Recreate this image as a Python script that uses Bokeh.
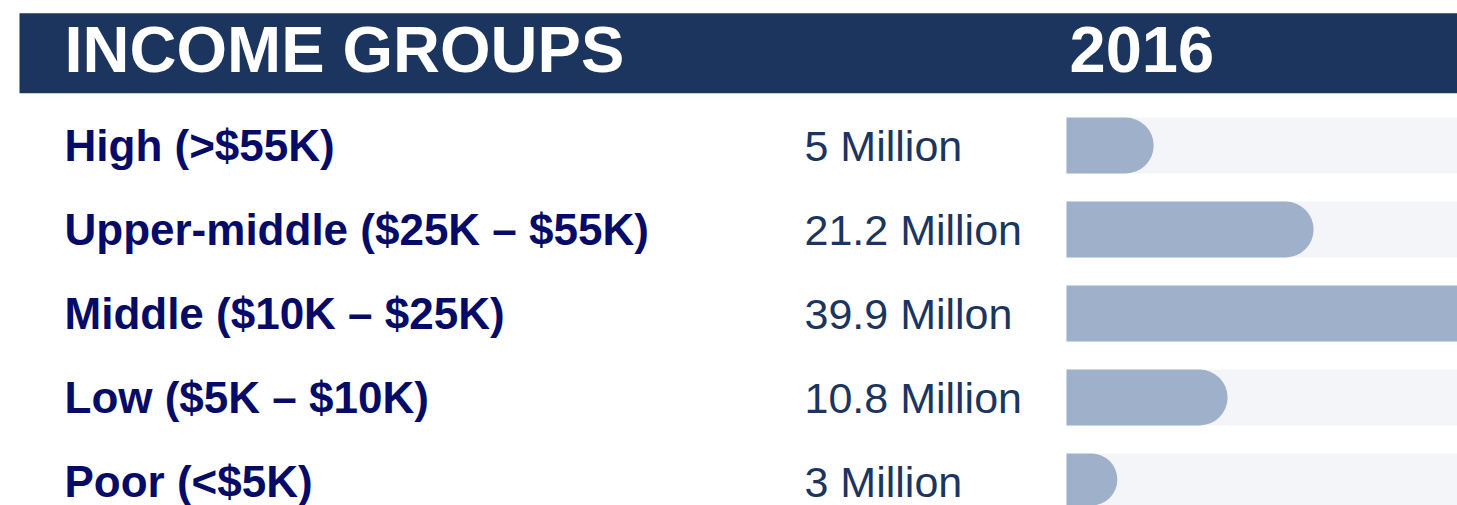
from bokeh.plotting import figure
from bokeh.models import Range1d
from bokeh.embed import file_html
from bokeh.resources import INLINE
from bokeh.core.properties import value

# ---- data ----
header_title = "INCOME GROUPS"
header_year = "2016"
groups = ["High (>$55K)", "Upper-middle ($25K – $55K)", "Middle ($10K – $25K)",
          "Low ($5K – $10K)", "Poor (<$5K)"]
population_labels = ["5 Million", "21.2 Million", "39.9 Millon", "10.8 Million", "3 Million"]
# bar length as % of the grey track (middle bar fills the track)
bar_length = [22.3, 63.2, 100.0, 41.2, 13.0]
rows = list(range(len(groups)))

# ---- layout ----
W, H = 1457, 505
TRACK_LEFT = 1066.0          # px where the bar track begins
PX_PER_PCT = (W - TRACK_LEFT) / 100.0
ROW0 = 145.0                 # px of first row centre
PITCH = 84.0                 # px between rows
BAR_H = 56.0

FONT = value("Liberation Sans")

p = figure(width=W, height=H, x_range=Range1d(0, W), y_range=Range1d(H, 0),
           min_border=0, toolbar_location=None, output_backend="svg")
p.axis.visible = False
p.grid.visible = False
p.outline_line_color = None
p.background_fill_color = "white"
p.border_fill_color = "white"

p.extra_x_ranges = {"pct": Range1d(-TRACK_LEFT / PX_PER_PCT, 100)}
p.extra_y_ranges = {"row": Range1d((H - ROW0) / PITCH, -ROW0 / PITCH)}

# header band
p.quad(left=19, right=W, top=12.7, bottom=92.7, fill_color="#1C355E", line_color=None)
p.text(x=[64], y=[48.5], text=[header_title], text_font=FONT, text_font_style="bold",
       text_font_size="65px", text_color="white", text_baseline="alphabetic")
p.text(x=[1069], y=[48.5], text=[header_year], text_font=FONT, text_font_style="bold",
       text_font_size="65px", text_color="white", text_baseline="alphabetic")

# tracks
p.hbar(y=rows, left=0, right=[100] * len(rows), height=BAR_H / PITCH,
       fill_color="#F4F5F8", line_color=None, x_range_name="pct", y_range_name="row")

# bars: rounded end where the bar stops inside the track, square where it fills it
rounded = [(r, v) for r, v in zip(rows, bar_length) if v < 100]
full = [(r, v) for r, v in zip(rows, bar_length) if v >= 100]
if rounded:
    p.hbar(y=[r for r, _ in rounded], left=0, right=[v for _, v in rounded],
           height=BAR_H / PITCH, fill_color="#9FB1CA", line_color=None,
           border_radius=(0, 28, 28, 0), x_range_name="pct", y_range_name="row")
if full:
    p.hbar(y=[r for r, _ in full], left=0, right=[v for _, v in full],
           height=BAR_H / PITCH, fill_color="#9FB1CA", line_color=None,
           x_range_name="pct", y_range_name="row")

# texts
p.text(x=[64] * len(rows), y=rows, text=groups, text_font=FONT, text_font_style="bold",
       text_font_size="44px", text_color="#060B66", text_baseline="alphabetic",
       y_range_name="row")
p.text(x=[804] * len(rows), y=rows, text=population_labels, text_font=FONT,
       text_font_size="43px", text_color="#1C355E", text_baseline="alphabetic",
       y_range_name="row")

open("out.html", "w").write(file_html(p, INLINE))
